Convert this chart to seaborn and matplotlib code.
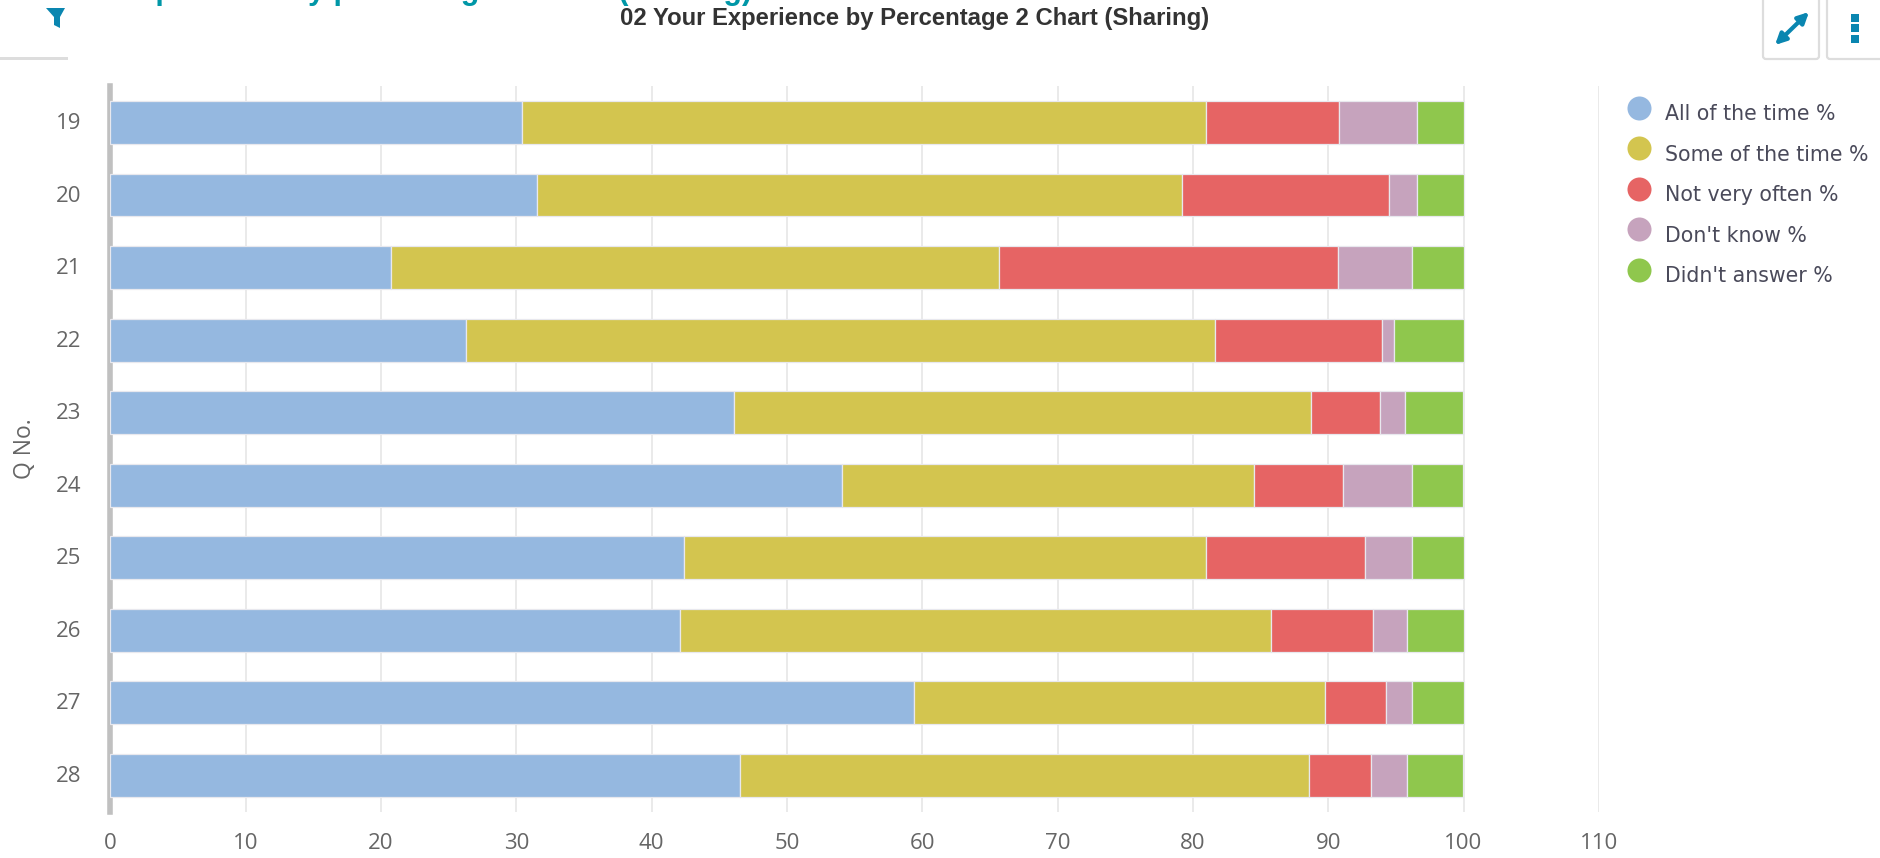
import numpy as np
import pandas as pd
import seaborn as sns
import matplotlib
matplotlib.use("Agg")
import matplotlib.pyplot as plt
from matplotlib.lines import Line2D
from matplotlib.patches import FancyBboxPatch, Polygon, Rectangle
from matplotlib.transforms import ScaledTranslation

questions = ["19", "20", "21", "22", "23", "24", "25", "26", "27", "28"]
all_time = [30.4, 31.5, 20.7, 26.3, 46.1, 54.1, 42.4, 42.1, 59.4, 46.5]
some_time = [50.6, 47.7, 45.0, 55.3, 42.6, 30.4, 38.6, 43.7, 30.4, 42.1]
not_often = [9.8, 15.3, 25.0, 12.4, 5.1, 6.6, 11.7, 7.5, 4.5, 4.6]
dont_know = [5.8, 2.1, 5.5, 0.9, 1.9, 5.1, 3.5, 2.5, 1.9, 2.6]
no_answer = [3.4, 3.4, 3.8, 5.1, 4.3, 3.8, 3.8, 4.2, 3.8, 4.2]

series_names = ["All of the time %", "Some of the time %", "Not very often %", "Don't know %", "Didn't answer %"]
series_values = [all_time, some_time, not_often, dont_know, no_answer]
colors = ["#95B8E0", "#D3C54F", "#E66464", "#C6A3BD", "#8FC74D"]

sns.set_theme(style="white")
plt.rcParams["font.family"] = ["Open Sans", "DejaVu Sans"]

W, H = 1881, 858
fig = plt.figure(figsize=(W / 100, H / 100), dpi=100, facecolor="white")
ax = fig.add_axes([110.5 / W, 1 - 811.7 / H, 1488.3 / W, (811.7 - 86.2) / H])

left = np.zeros(len(questions))
for name, vals, col in zip(series_names, series_values, colors):
    df = pd.DataFrame({"q": questions, "v": vals})
    sns.barplot(data=df, x="v", y="q", order=questions, orient="h", color=col, width=0.59,
                saturation=1, left=left, ax=ax, edgecolor="#e8e8ee", linewidth=0.9, zorder=3)
    left = left + np.array(vals)

ax.set_xlim(0, 110)
ax.set_ylim(9.5, -0.5)
ax.set_xticks(range(0, 111, 10))
ax.xaxis.grid(True, color="#e6e6e6", linewidth=1.2, zorder=0)
ax.yaxis.grid(False)
ax.set_axisbelow(True)
for s in ["top", "right", "bottom"]:
    ax.spines[s].set_visible(False)
ax.spines["left"].set_color("#c0c0c0")
ax.spines["left"].set_linewidth(4)
ax.spines["left"].set_zorder(2)
ax.tick_params(axis="x", length=0, pad=15, labelsize=16, labelcolor="#666666")
ax.tick_params(axis="y", length=0, pad=21, labelsize=16, labelcolor="#666666")
up = ScaledTranslation(0, 1.5 / 100, fig.dpi_scale_trans)
for lab in ax.get_yticklabels():
    lab.set_transform(lab.get_transform() + up)
ax.set_xlabel("")
ax.set_ylabel("Q No.", fontsize=16.5, color="#666666", va="center")
ax.yaxis.set_label_coords((25 - 110.5) / 1488.3, 0.5)

handles = [Line2D([], [], linestyle="", marker="o", markersize=17.3, color=c, markeredgewidth=0) for c in colors]
leg = fig.legend(handles, series_names, loc="upper left", bbox_to_anchor=(1618.5 / W, 1 - 99 / H), frameon=False,
                 labelcolor="#4a4a5a", handletextpad=0.28, labelspacing=1.0, borderpad=0, borderaxespad=0,
                 prop={"family": ["DejaVu Sans"], "size": 14.8})
for t in leg.get_texts():
    t.set_y(-5)

# page chrome around the chart
fig.text(915 / W, 1 - 18 / H, "02 Your Experience by Percentage 2 Chart (Sharing)", ha="center", va="center",
         fontsize=17.2, fontweight="bold", color="#333333", family=["Liberation Sans"])
fig.text(118 / W, 1 + 1 / H, "Experience by percentage 2 Chart (Sharing)", ha="left", va="baseline",
         fontsize=22, color="#0097A7", family=["Liberation Sans"], fontweight="bold")

bg = fig.add_axes([0, 0, 1, 1], zorder=5)
bg.set_xlim(0, W)
bg.set_ylim(H, 0)
bg.axis("off")
bg.patch.set_alpha(0)
for (x0, x1) in [(1763, 1819), (1827, 1890)]:
    bg.add_patch(FancyBboxPatch((x0 + 3, -10), x1 - x0 - 6, 66, boxstyle="round,pad=3", fc="white",
                                ec="#dddddd", lw=1.6))
bg.add_patch(Rectangle((0, 56.5), 68, 3, fc="#dddddd", ec="none"))
bg.add_patch(Polygon([[46, 8], [65, 8], [60, 17], [60, 28], [54, 25], [54, 17]], closed=True, fc="#0A86B0", ec="none"))
bg.annotate("", xy=(1775, 45), xytext=(1809, 12), arrowprops=dict(arrowstyle="<|-|>", color="#0A86B0", lw=3, mutation_scale=16, shrinkA=0, shrinkB=0))
for y in (18, 28, 39):
    bg.add_patch(Rectangle((1851, y - 4), 8, 8, fc="#0A86B0", ec="none"))

fig.savefig("out.png", dpi=100)
